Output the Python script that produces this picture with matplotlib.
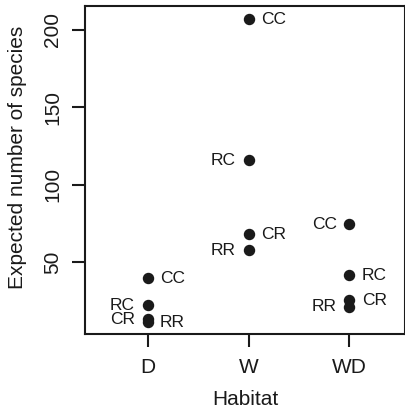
import matplotlib.pyplot as plt

habitats = ['D', 'W', 'WD']
groups = ['CC', 'RC', 'CR', 'RR']
species_d = [39.6, 22.1, 13.0, 10.9]
species_w = [206.9, 115.7, 67.9, 57.7]
species_wd = [74.5, 41.3, 25.2, 21.0]
# which side the label sits on (1 = right, -1 = left)
side_d = [1, -1, -1, 1]
side_w = [1, -1, 1, -1]
side_wd = [-1, 1, 1, -1]

plt.rcParams['font.family'] = ['Liberation Sans', 'DejaVu Sans']

fig = plt.figure(figsize=(4.06, 4.11), dpi=100)
ax = fig.add_axes([85 / 406, 77 / 411, 320 / 406, 328 / 411])

for i, (vals, sides) in enumerate([(species_d, side_d), (species_w, side_w),
                                   (species_wd, side_wd)]):
    x = i + 1
    ax.scatter([x] * len(vals), vals, s=52, color='#1a1a1a', zorder=3)
    for g, v, s in zip(groups, vals, sides):
        ax.annotate(g, (x, v), xytext=(9 * s, 0), textcoords='offset points',
                    ha='left' if s > 0 else 'right', va='center',
                    fontsize=12.5, color='#1a1a1a')

ax.set_xlim(0.38, 3.55)
ax.set_ylim(3.4, 215.5)
ax.set_xticks([1, 2, 3])
ax.set_xticklabels(habitats)
ax.set_yticks([50, 100, 150, 200])
ax.set_yticklabels(['50', '100', '150', '200'], rotation=90, va='center')
ax.tick_params(axis='both', labelsize=15, length=9.5, width=1.5,
               colors='#1a1a1a')
ax.tick_params(axis='x', pad=8)
ax.tick_params(axis='y', pad=7)
for sp in ax.spines.values():
    sp.set_linewidth(1.5)
    sp.set_color('#1a1a1a')

ax.set_xlabel('Habitat', fontsize=15, labelpad=9, color='#1a1a1a')
ax.set_ylabel('Expected number of species', fontsize=15, color='#1a1a1a')
ax.yaxis.set_label_coords(-0.18, 0.54)

fig.savefig('out.png', dpi=100)
